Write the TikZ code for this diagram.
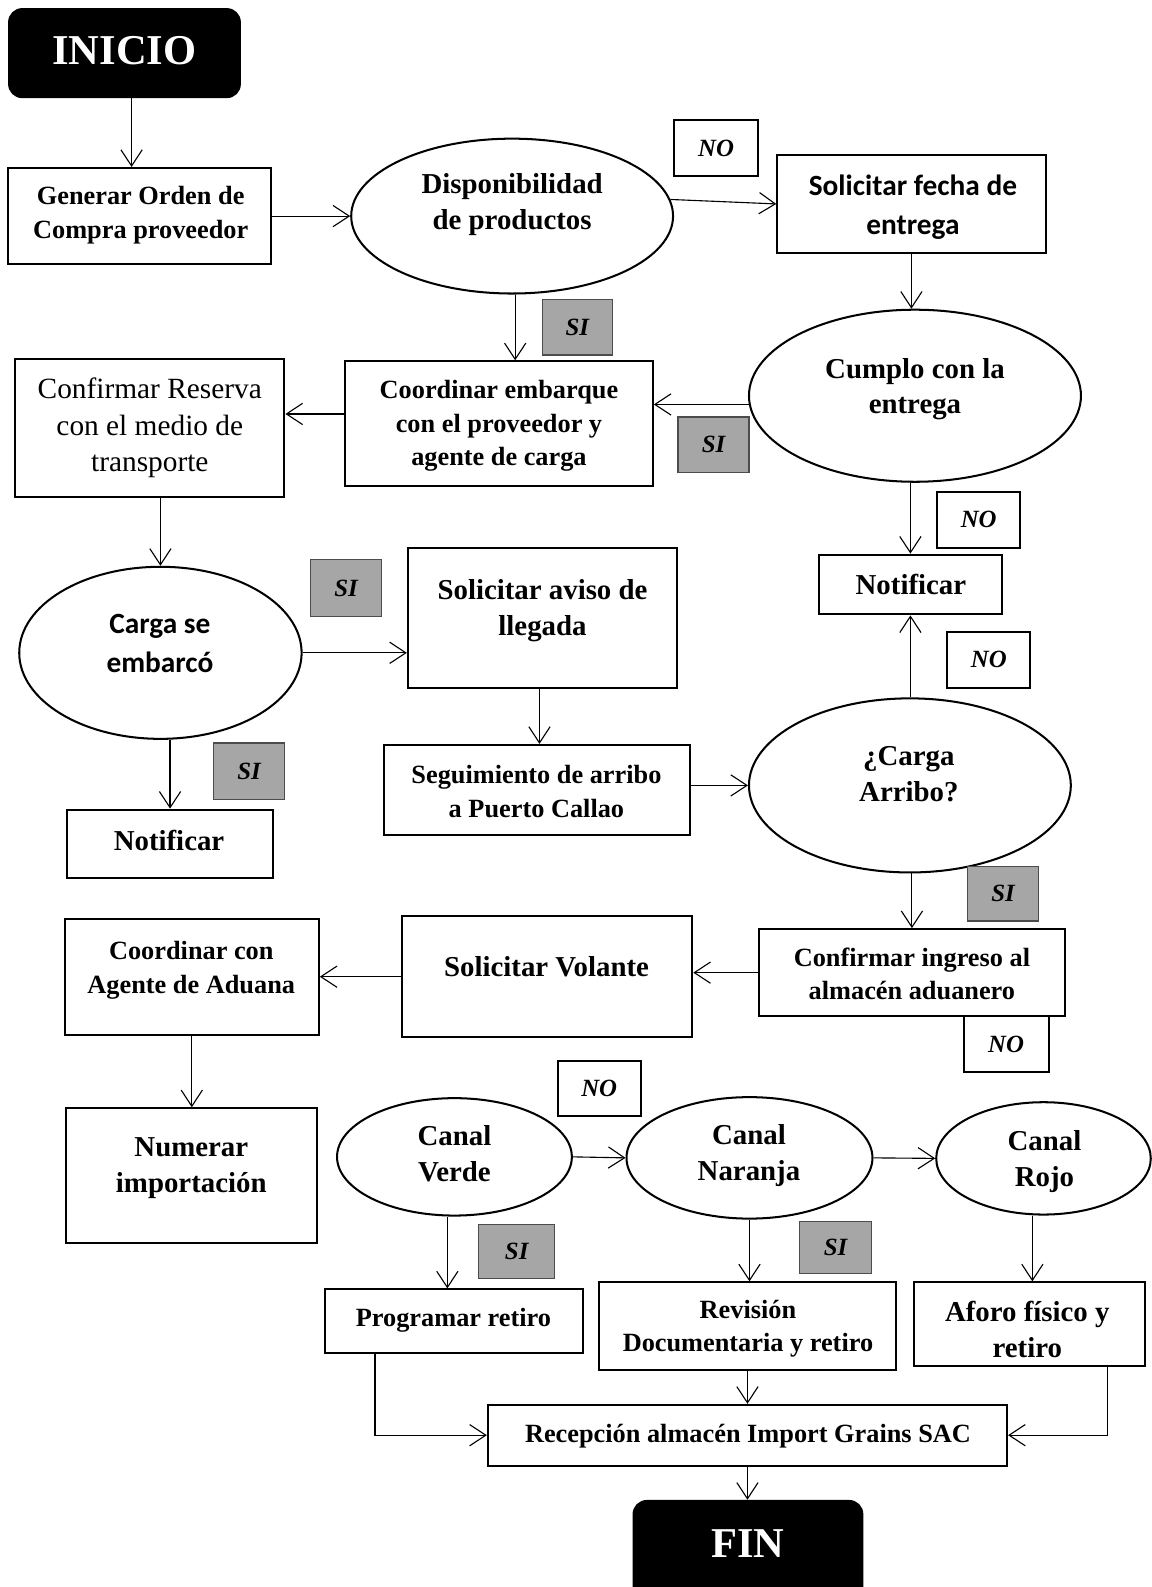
\documentclass[tikz,border=0pt]{standalone}
\usepackage{fontspec}
\setmainfont{Liberation Serif}
\newfontfamily\calib{Carlito}
\usetikzlibrary{shapes.geometric,arrows.meta}
\definecolor{siGrey}{RGB}{166,166,166}
\begin{document}
\begin{tikzpicture}[x=1pt,y=-1pt,
  box/.style={draw, line width=2pt, rectangle, inner sep=0pt},
  oval/.style={draw, line width=2pt, ellipse, inner sep=0pt},
  term/.style={fill=black, rounded corners=14pt, inner sep=0pt},
  termtxt/.style={text=white, inner sep=0pt, font=\fontsize{42}{48}\selectfont\bfseries},
  tag/.style={draw, line width=2pt, inner sep=0pt, font=\fontsize{24.5}{28}\selectfont\bfseries\itshape},
  yes/.style={tag, fill=siGrey, draw=black!70, line width=1.5pt},
  txt/.style={align=center, inner sep=0pt, font=\fontsize{28.5}{35.5}\selectfont\bfseries},
  txs/.style={align=center, inner sep=0pt, font=\fontsize{26}{33}\selectfont\bfseries},
  txr/.style={align=center, inner sep=0pt, font=\fontsize{29}{36}\selectfont},
  txc/.style={align=center, inner sep=0pt, font=\fontsize{29}{38.5}\selectfont\calib\bfseries},
  arr/.style={line width=1.1pt, -{Straight Barb[length=16pt,width=21pt]}},
]
\fill[white] (0,0) rectangle (1138,1568);
\useasboundingbox (0,0) rectangle (1138,1568);

% terminals
\node[term, minimum width=230, minimum height=89] (ini) at (123,52.5) {};
\node[termtxt] (ini-t) at (123,50) {INICIO};
\node[term, minimum width=228, minimum height=120] (fin) at (739,1542) {};
\node[termtxt] (fin-t) at (739,1525) {FIN};

% process boxes
\node[box, minimum width=260, minimum height=95]  (gen)  at (138,213.5) {};
\node[box, minimum width=265, minimum height=97]  (solf) at (900.5,201.5) {};
\node[box, minimum width=304, minimum height=123] (coord) at (493,418.5) {};
\node[box, minimum width=266, minimum height=136] (conf) at (148,423) {};
\node[box, minimum width=266, minimum height=139] (avis) at (536,610.5) {};
\node[box, minimum width=204, minimum height=67]  (notL) at (168,833.5) {};
\node[box, minimum width=303, minimum height=89]  (seg)  at (530.5,780.5) {};
\node[box, minimum width=181, minimum height=59]  (notR) at (899.5,577.5) {};
\node[box, minimum width=302, minimum height=86]  (cing) at (901,961) {};
\node[box, minimum width=287, minimum height=120] (vol)  at (540.5,965) {};
\node[box, minimum width=251, minimum height=115] (cag)  at (189.5,965.5) {};
\node[box, minimum width=248, minimum height=133] (num)  at (189,1161.5) {};
\node[box, minimum width=255, minimum height=63]  (prog) at (448.5,1305.5) {};
\node[box, minimum width=293, minimum height=87]  (rev)  at (738.5,1310.5) {};
\node[box, minimum width=228, minimum height=83]  (afo)  at (1017,1308.5) {};
\node[box, minimum width=513, minimum height=60]  (rec)  at (738.5,1418) {};

% decisions
\node[oval, minimum width=318, minimum height=153] (disp)  at (506,213.5) {};
\node[oval, minimum width=328, minimum height=170] (cump)  at (904,391) {};
\node[oval, minimum width=279, minimum height=170] (carga) at (158.5,645) {};
\node[oval, minimum width=318, minimum height=172] (arr)   at (899,776) {};
\node[oval, minimum width=232, minimum height=116] (cv)    at (449,1143) {};
\node[oval, minimum width=243, minimum height=120] (cn)    at (740.5,1144) {};
\node[oval, minimum width=212, minimum height=111] (cr)    at (1031,1144.5) {};

% texts
\node[txs] (gen-t)   at (139,212.5)  {Generar Orden de\\Compra proveedor};
\node[txt] (disp-t)  at (506,202)    {Disponibilidad\\de productos};
\node[txc] (solf-t)  at (902,204.5)  {Solicitar fecha de\\entrega};
\node[txs] (coord-t) at (493,421)    {Coordinar embarque\\con el proveedor y\\agente de carga};
\node[txt] (cump-t)  at (904,384.5)  {Cumplo con la\\entrega};
\node[txr] (conf-t)  at (148,423)    {Confirmar Reserva\\con el medio de\\transporte};
\node[txc] (carga-t) at (158,635.5)  {Carga se\\embarcó};
\node[txt] (avis-t)  at (536,603.5)  {Solicitar aviso de\\llegada};
\node[txt] (notL-t)  at (167,830.5)  {Notificar};
\node[txs] (seg-t)   at (530,782)    {Seguimiento de arribo\\a Puerto Callao};
\node[txt] (arr-t)   at (898,765)    {¿Carga\\Arribo?};
\node[txt] (notR-t)  at (900,577)    {Notificar};
\node[txs] (cing-t)  at (901,962)    {Confirmar ingreso al\\almacén aduanero};
\node[txt] (vol-t)   at (540,955)    {Solicitar Volante};
\node[txs] (cag-t)   at (189,958.5)  {Coordinar con\\Agente de Aduana};
\node[txt] (num-t)   at (189,1154)   {Numerar\\importación};
\node[txt] (cv-t)    at (449,1139.5) {Canal\\Verde};
\node[txt] (cn-t)    at (740,1142)   {Canal\\Naranja};
\node[txt] (cr-t)    at (1032,1148)  {Canal\\Rojo};
\node[txs] (prog-t)  at (448,1304)   {Programar retiro};
\node[txs] (rev-t)   at (739,1313)   {Revisión\\Documentaria y retiro};
\node[txt] (afo-t)   at (1015,1314)  {Aforo físico y\\retiro};
\node[txs] (rec-t)   at (739,1418.5) {Recepción almacén Import Grains SAC};

% answer tags
\node[tag, minimum width=83, minimum height=55] (no1) at (707.5,146.5) {NO};
\node[tag, minimum width=82, minimum height=55] (no2) at (967,513.5)   {NO};
\node[tag, minimum width=82, minimum height=56] (no3) at (977,652)     {NO};
\node[tag, minimum width=84, minimum height=55] (no4) at (994,1031.5)  {NO};
\node[tag, minimum width=82, minimum height=55] (no5) at (592,1075.5)  {NO};
\node[yes, minimum width=69, minimum height=55] (si1) at (570.5,323.5) {SI};
\node[yes, minimum width=70, minimum height=55] (si2) at (705,439.5)   {SI};
\node[yes, minimum width=70, minimum height=56] (si3) at (342,581)     {SI};
\node[yes, minimum width=70, minimum height=56] (si4) at (246,762)     {SI};
\node[yes, minimum width=70, minimum height=54] (si5) at (991,883)     {SI};
\node[yes, minimum width=75, minimum height=53] (si6) at (510.5,1236.5) {SI};
\node[yes, minimum width=71, minimum height=51] (si7) at (825.5,1232.5) {SI};

% connectors
\draw[arr] ([xshift=7]ini.south) -- ([xshift=7]ini.south |- gen.north);
\draw[arr] (gen.east) -- (disp.west);
\draw[arr] (disp.6) -- (solf.west);
\draw[arr] ([xshift=3]disp.south) -- ([xshift=3]disp.south |- coord.north);
\draw[arr] (solf.south) -- (solf.south |- cump.north);
\draw[arr] (cump.183) -- (cump.183 -| coord.east);
\draw[arr] ([yshift=9.5]coord.west) -- ([yshift=9.5]coord.west -| conf.east);
\draw[arr] (carga.north |- conf.south) -- (carga.north);
\draw[arr] (carga.east) -- (carga.east -| avis.west);
\draw[arr] (notL.north |- carga.south) -- (notL.north);
\draw[arr] ([xshift=-3]avis.south) -- ([xshift=-3]avis.south |- seg.north);
\draw[arr] (arr.west -| seg.east) -- (arr.west);
\draw[arr] (notR.north |- cump.south) -- (notR.north);
\draw[arr] (notR.south |- arr.north) -- (notR.south);
\draw[arr] (cing.north |- arr.south) -- (cing.north);
\draw[arr] (cing.west) -- (cing.west -| vol.east);
\draw[arr] (vol.west) -- (vol.west -| cag.east);
\draw[arr] (cag.south) -- (cag.south |- num.north);
\draw[arr] (cv.east) -- (cn.west);
\draw[arr] (cn.east) -- (cr.west);
\draw[arr] ([xshift=-7]cv.south) -- ([xshift=-7]cv.south |- prog.north);
\draw[arr] (cn.south) -- (cn.south |- rev.north);
\draw[arr] ([xshift=-11]cr.south) -- ([xshift=-11]cr.south |- afo.north);
\draw[arr] (rev.south) -- (rev.south |- rec.north);
\draw[arr] ([xshift=-78]prog.south) |- (rec.west);
\draw[arr] ([xshift=77]afo.south) |- (rec.east);
\draw[arr] (rec.south) -- (rec.south |- fin.north);
\end{tikzpicture}
\end{document}
